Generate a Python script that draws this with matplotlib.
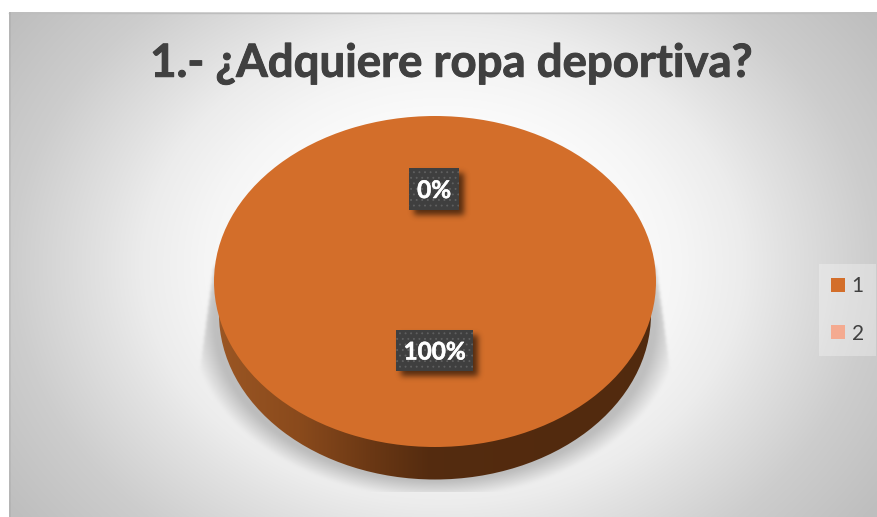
import numpy as np
import matplotlib
matplotlib.use('Agg')
import matplotlib.pyplot as plt
import matplotlib.patheffects as pe
from matplotlib.patches import Ellipse, Rectangle

TITLE = '1.- ¿Adquiere ropa deportiva?'
categories = ['1', '2']
values = [100, 0]
slice_colors = ['#D36E2A', '#F4AA90']

W, H = 878, 517
CX, CY, RX, RY = 435, 281.5, 221, 165.5   # top face of the pie
BOTTOM_CY, BOTTOM_RX = 314, 216           # lower rim of the wall

plt.rcParams['font.family'] = ['Lato', 'DejaVu Sans']
plt.rcParams['hatch.linewidth'] = 0.6

fig = plt.figure(figsize=(W / 100, H / 100), dpi=100, facecolor='white')

def pixel_axes(zorder):
    ax = fig.add_axes([0, 0, 1, 1], zorder=zorder)
    ax.set_xlim(0, W)
    ax.set_ylim(H, 0)
    ax.axis('off')
    return ax

def gaussian_blur(img, sigma):
    radius = int(3 * sigma)
    k = np.exp(-0.5 * (np.arange(-radius, radius + 1) / sigma) ** 2)
    k /= k.sum()
    img = np.apply_along_axis(lambda r: np.convolve(r, k, mode='same'), 0, img)
    return np.apply_along_axis(lambda r: np.convolve(r, k, mode='same'), 1, img)

# ---- background: radial grey gradient and the soft shadow under the pie ----
back = pixel_axes(0)
X, Y = np.meshgrid(np.arange(W) + 0.5, np.arange(H) + 0.5)
r = np.hypot(X - 443, (Y - 265) * 1.25) / 531
grey = np.interp(r, [0, 0.3, 0.45, 0.565, 0.64, 0.81, 1.0], [255, 253, 245, 236, 226, 205, 190])

d = np.hypot((X - CX) / 245, (Y - 322) / 176)
fade = np.clip((1.0 - d) / 0.10, 0, 1)
left_edge = 214 - (Y - 265) * 14 / 105
right_edge = 656 + (Y - 265) * 14 / 105
inside = (Y > 265) & (X > left_edge) & (X < right_edge)
shadow = gaussian_blur(0.22 * fade * inside, 1.5)
shadow[492:, :] = 0
grey = grey * (1 - shadow)

rgb = np.dstack([grey, grey, grey]) / 255
back.imshow(rgb, extent=(0, W, H, 0), aspect='auto', interpolation='bilinear')
back.set_xlim(0, W)
back.set_ylim(H, 0)

# white margin above and left of the chart area
back.add_patch(Rectangle((0, 0), W, 12, fc='white', ec='none', zorder=3))
back.add_patch(Rectangle((0, 0), 9, H, fc='white', ec='none', zorder=3))
back.plot([9, W], [12.5, 12.5], color='#bdbdbd', lw=1, zorder=4)
back.add_patch(Rectangle((9, 12), 2, H, fc='black', alpha=0.05, ec='none', zorder=4))

# wall of the pie, dark brown towards the right
wall_x = [214, 300, 370, 430, 660]
wall_r = [0.61, 0.54, 0.42, 0.33, 0.32]
wall_g = [0.34, 0.29, 0.22, 0.17, 0.165]
wall_b = [0.14, 0.11, 0.08, 0.06, 0.055]
xs = np.arange(214, 661) + 0.5
wall = np.dstack([np.interp(xs, wall_x, c)[None, :] for c in (wall_r, wall_g, wall_b)])
wall_img = back.imshow(wall, extent=(214, 661, 490, 150), aspect='auto', zorder=2)
rim = Ellipse((CX, BOTTOM_CY), 2 * BOTTOM_RX, 2 * RY, transform=back.transData)
wall_img.set_clip_path(rim)
back.set_xlim(0, W)
back.set_ylim(H, 0)

# ---- top face: pie squashed by its axes box ----
pie_ax = fig.add_axes([(CX - RX) / W, 1 - (CY + RY) / H, 2 * RX / W, 2 * RY / H], zorder=1)
wedges, _ = pie_ax.pie(values, colors=slice_colors, startangle=90, counterclock=True, radius=1)
pie_ax.set_aspect('auto')
pie_ax.set_xlim(-1, 1)
pie_ax.set_ylim(-1, 1)

# ---- title, value labels, legend ----
top = pixel_axes(2)
top.set_facecolor('none')
title = top.text(451, 64, TITLE, ha='center', va='center', fontsize=32.8, fontweight='bold', color='#404040')
title.set_path_effects([pe.withStroke(linewidth=0.7, foreground='#404040')])

shares = 100 * np.array(values) / sum(values)
label_boxes = [(396, 330, 77, 41), (409, 168, 50, 42)]

glow = np.zeros((H, W))
for x0, y0, w, h in label_boxes:
    glow[y0 + 5:y0 + h + 5, x0 + 5:x0 + w + 5] = 1
glow = gaussian_blur(glow, 3)
shade = np.zeros((H, W, 4))
shade[..., 3] = glow * 0.6
top.imshow(shade, extent=(0, W, H, 0), aspect='auto')
top.set_xlim(0, W)
top.set_ylim(H, 0)

for share, (x0, y0, w, h) in zip(shares, label_boxes):
    top.add_patch(Rectangle((x0, y0), w, h, fc='#3F3F3F', ec='#606060', lw=0, hatch='...'))
    label = top.text(x0 + w / 2, y0 + h / 2 + 1.5, f'{share:.0f}%', ha='center', va='center',
                     fontsize=17.5, fontweight='bold', color='white')
    label.set_path_effects([pe.withStroke(linewidth=0.4, foreground='white')])

leg = top.legend(wedges, categories, loc='upper left', bbox_to_anchor=(819 / W, 1 - 264 / H),
                 bbox_transform=fig.transFigure, frameon=True, fancybox=False, framealpha=0.3,
                 facecolor='white', edgecolor='none', fontsize=15, labelcolor='#404040',
                 handlelength=0.67, handleheight=0.67, handletextpad=0.3, labelspacing=1.3,
                 borderpad=0.6, borderaxespad=0)

plt.savefig('out.png', dpi=100)
